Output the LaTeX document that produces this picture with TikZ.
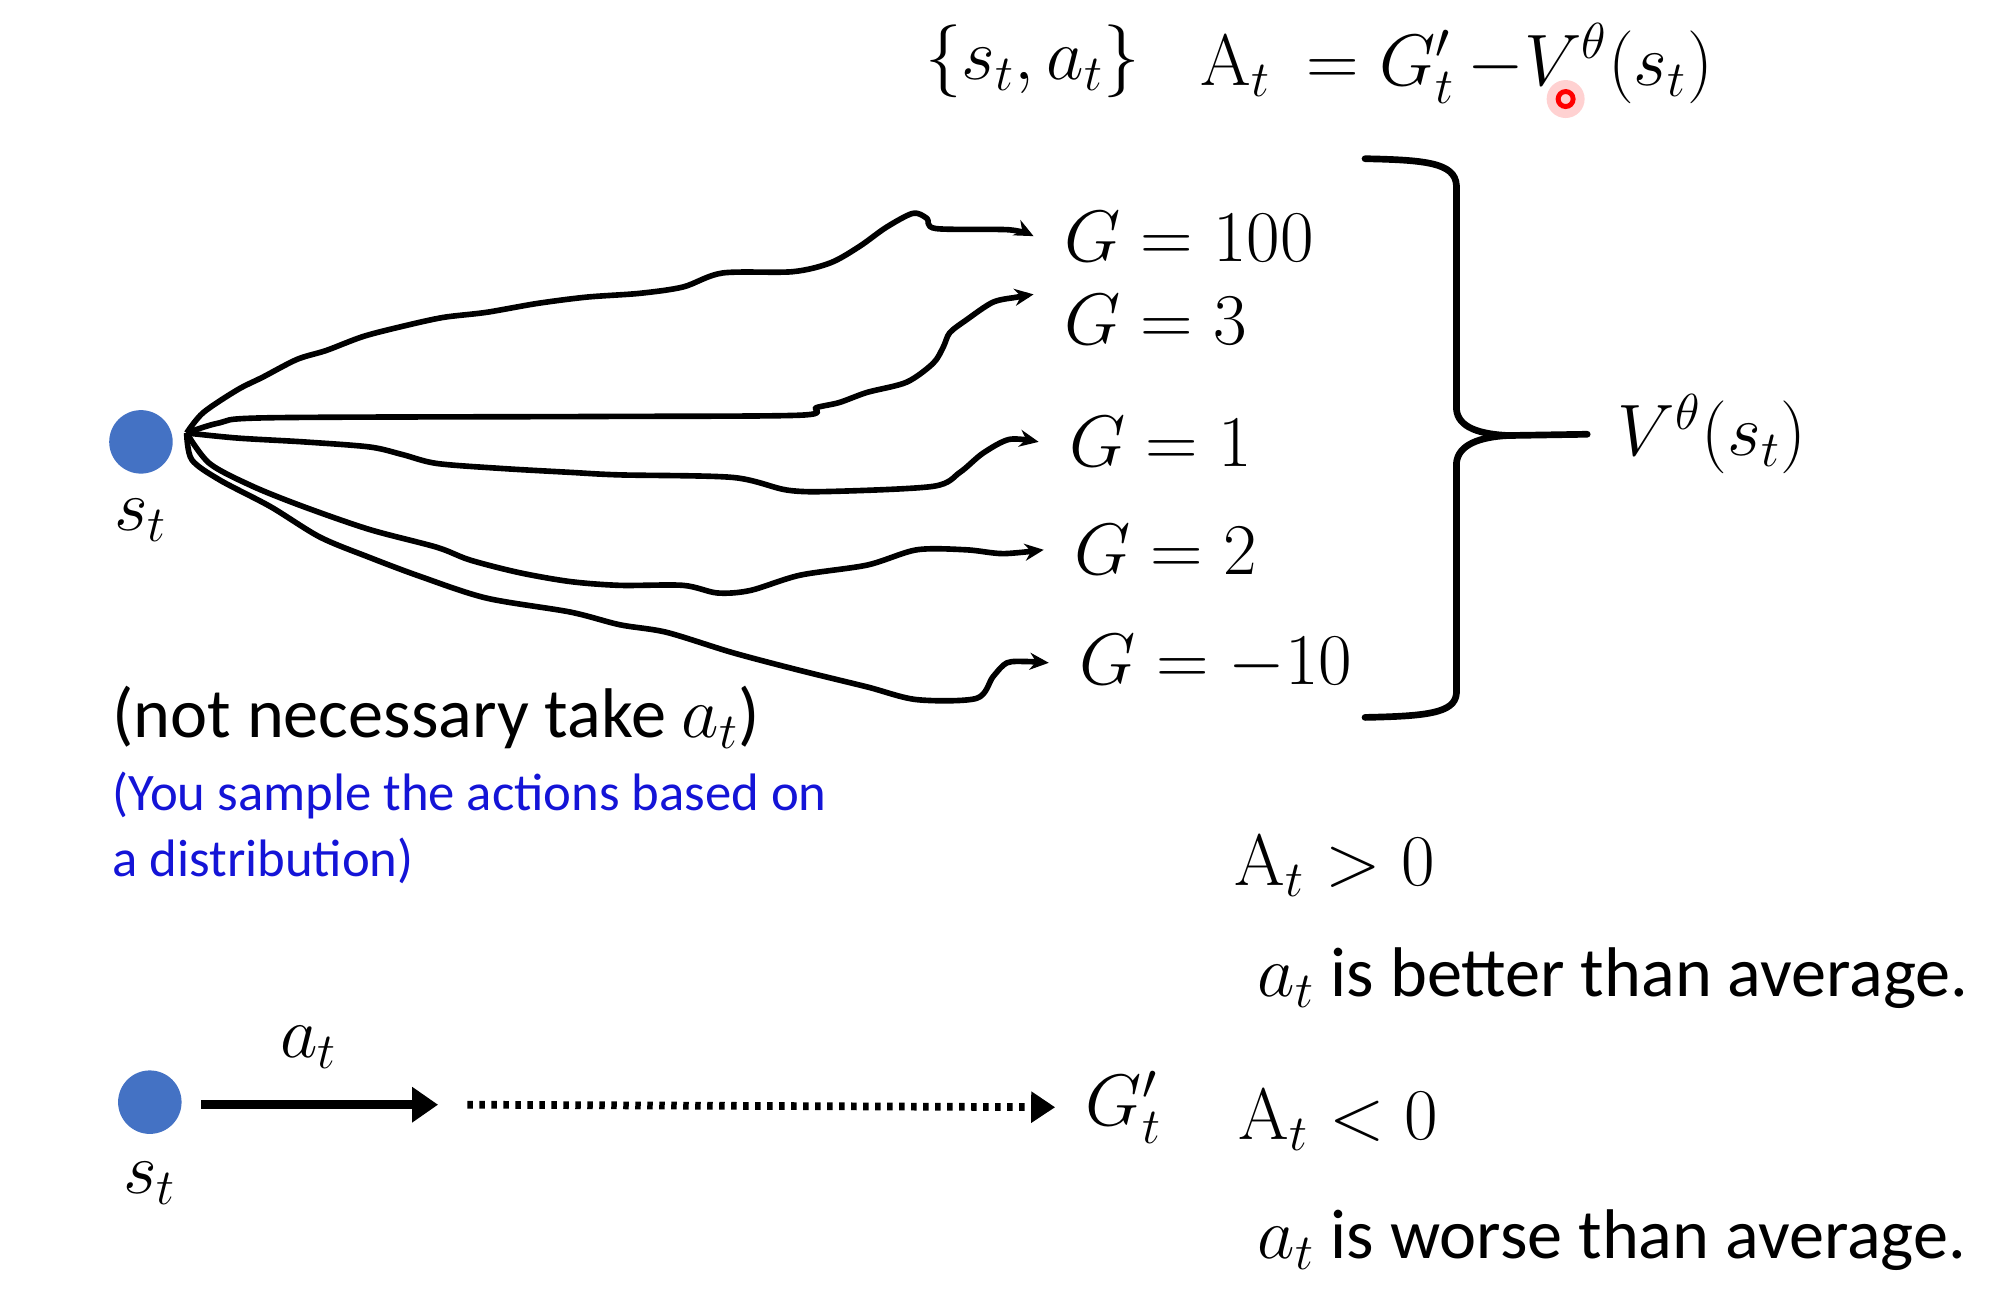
\documentclass[tikz,border=0pt]{standalone}
\usepackage[no-math]{fontspec}
\setmainfont{Carlito}
\usepackage{amsmath}
\usepackage{xcolor}
\usetikzlibrary{positioning,arrows.meta}
\definecolor{dotblue}{RGB}{68,114,196}
\definecolor{noteblue}{RGB}{20,20,215}

\begin{document}
\begin{tikzpicture}[x=0.127mm, y=-0.127mm, font=\fontsize{20}{24}\selectfont,
	state/.style={circle, fill=dotblue, minimum size=6.35mm, inner sep=0pt},
	fanline/.style={line width=1.6pt, line join=round, -{Stealth[length=1.9mm,width=1.7mm]}},
	glabel/.style={anchor=west, inner xsep=3mm, inner ysep=0pt},
	txt/.style={anchor=west, inner sep=0pt},
	brace/.style={line width=1.9pt, line cap=round, line join=round},
	actarrow/.style={line width=2.4pt, -{Triangle[length=2.6mm,width=3.4mm]}},
	rollarrow/.style={line width=2.2pt, dash pattern=on 0.55mm off 0.65mm, -{Triangle[length=2.4mm,width=3.0mm]}}]
		\useasboundingbox (0,0) rectangle (1568,1019);
		% advantage formula on top
		\node[txt] (pair) at (728,48) {$\{s_t, a_t\}$};
		\node[txt] (adv) at (945,50) {$\mathrm{A}_t\ = G'_t\,{-}V^{\theta}(s_t)$};
		% pointer mark
		\fill[red!18] (1233,78) circle (1.9mm);
		\draw[red, line width=1.4pt] (1233,78) circle (0.75mm);
		% sampled state and its returns
		\node[state] (root) at (111,348) {};
		\node (rootlab) at (111,410) {$s_t$};
		\coordinate (fan) at (147,341);
		\node[glabel] (g100) at (814,186) {$G = 100$};
		\node[glabel] (g3) at (814,252) {$G = 3$};
		\node[glabel] (g1) at (818,348) {$G = 1$};
		\node[glabel] (g2) at (822,433) {$G = 2$};
		\node[glabel] (gm10) at (826,522) {$G = -10$};
		\draw[fanline] plot[smooth, tension=0.5] coordinates {(fan) (160,325) (187,307) (207,297)
			(234,283) (257,276) (286,265) (317,257) (349,250) (383,246) (423,239) (462,234)
			(504,231) (538,226) (569,215) (624,214) (654,207) (677,194) (698,179) (719,168)
			(730,172) (737,180) (795,181) (g100.west)};
		\draw[fanline] plot[smooth, tension=0.5] coordinates {(fan) (173,333) (213,329) (472,328)
			(630,327) (643,321) (661,317) (683,309) (714,301) (735,286) (743,273) (748,262)
			(761,252) (782,238) (801,234) (g3.north west)};
		\draw[fanline] plot[smooth, tension=0.5] coordinates {(fan) (187,345) (239,348) (291,352)
			(317,358) (344,365) (396,369) (449,372) (488,374) (577,376) (620,386) (656,387)
			(735,383) (756,372) (774,357) (795,346) (g1.west)};
		\draw[fanline] plot[smooth, tension=0.5] coordinates {(fan) (165,365) (199,383) (239,399)
			(291,417) (344,431) (370,441) (409,451) (449,458) (488,461) (538,461) (565,467)
			(591,465) (630,453) (683,445) (722,433) (761,433) (790,436) (g2.west)};
		\draw[fanline] plot[smooth, tension=0.5] coordinates {(fan) (151,362) (173,378) (213,399)
			(252,423) (291,439) (331,454) (383,471) (449,482) (488,492) (525,498) (577,514)
			(630,528) (683,541) (722,551) (769,550) (782,533) (793,522) (809,521) (gm10.west)};
		% brace collecting the returns
		\node[glabel] (vval) at (1250,342) {$V^{\theta}(s_t)$};
		\coordinate (cusp) at (1188,343);
		\draw[brace] (1075,125) .. controls (1122,126) and (1146,128) .. (1147,146) -- (1147,322)
			.. controls (1148,337) and (1166,342) .. (cusp);
		\draw[brace] (1075,565) .. controls (1122,564) and (1146,562) .. (1147,546) -- (1147,365)
			.. controls (1148,350) and (1166,344) .. (cusp);
		\draw[brace] (cusp) -- (vval.west);
		% notes under the fan
		\node[txt] (note) at (88,565) {(not necessary take $a_t$)};
		\node[txt, noteblue, font=\fontsize{15}{19}\selectfont, align=left] (sample) at (88,652)
			{(You sample the actions based on\\a distribution)};
		% taking a_t, then following the policy
		\node[state] (s2) at (118,868) {};
		\node (s2lab) at (118,932) {$s_t$};
		\coordinate (actend) at (345,870);
		\coordinate (rollout) at (368,870);
		\node[glabel] (gp) at (831,872) {$G'_t$};
		\draw[actarrow, shorten <=1.9mm] (s2.east |- actend) -- (actend);
		\node (alab) at (243,825) {$a_t$};
		\draw[rollarrow] (rollout) -- (gp.west);
		% sign of the advantage
		\node[txt] (apos) at (972,682) {$\mathrm{A}_t > 0$};
		\node[txt] (better) at (990,770) {$a_t$ is better than average.};
		\node[txt] (aneg) at (975,882) {$\mathrm{A}_t < 0$};
		\node[txt] (worse) at (990,977) {$a_t$ is worse than average.};
	\end{tikzpicture}
\end{document}
